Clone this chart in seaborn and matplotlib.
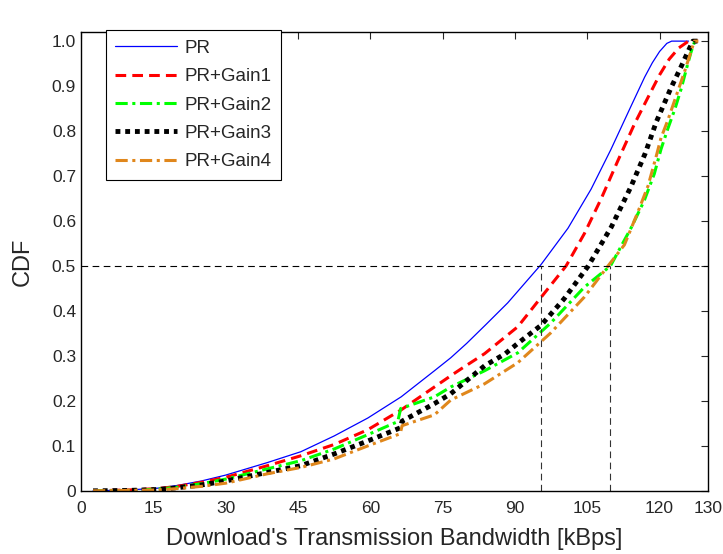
import matplotlib
matplotlib.use("Agg")
import matplotlib.pyplot as plt
import seaborn as sns
import pandas as pd
import numpy as np

# CDF points (x in kBps, y = CDF)
pr_x = [2.5, 10, 16, 20, 25, 30, 38.7, 45.6, 52.5, 59.5, 66.4, 73.3, 76.7, 80, 84, 88.5,
        95.4, 101, 105.8, 109.9, 114.1, 116.9, 118.5, 120, 121.5, 122.5, 126]
pr_y = [0, 0.002, 0.006, 0.012, 0.022, 0.035, 0.063, 0.087, 0.122, 0.162, 0.209, 0.267, 0.296,
        0.328, 0.37, 0.418, 0.503, 0.584, 0.671, 0.759, 0.856, 0.92, 0.952, 0.977, 0.995, 1.0, 1.0]

g1_x = [2.5, 10, 16, 20, 25, 30, 38.7, 45.6, 52.5, 59.5, 66.4, 73.3, 76.7, 78.8, 83.7, 90.6,
        95.4, 100.6, 104.4, 107.9, 111.3, 114.8, 117.6, 120, 122, 124, 126, 128]
g1_y = [0, 0.002, 0.005, 0.01, 0.019, 0.03, 0.056, 0.078, 0.103, 0.136, 0.18, 0.231, 0.256,
        0.271, 0.305, 0.365, 0.43, 0.5, 0.572, 0.65, 0.733, 0.816, 0.875, 0.925, 0.96, 0.985,
        1.0, 1.0]

g2_x = [2.5, 10, 16, 20, 25, 30, 38.7, 45.6, 52.5, 59.5, 65.7, 66.3, 73.3, 76.7, 83.7, 90.6,
        97.4, 104.4, 109.8, 114.1, 116.8, 118.9, 120.3, 121.7, 123.2, 124.5, 125.6, 126.5,
        127.3, 128]
g2_y = [0, 0.001, 0.004, 0.008, 0.016, 0.026, 0.049, 0.067, 0.093, 0.125, 0.154, 0.183, 0.209,
        0.231, 0.267, 0.307, 0.373, 0.453, 0.5, 0.585, 0.645, 0.705, 0.76, 0.805, 0.85, 0.895,
        0.94, 0.975, 1.0, 1.0]

g3_x = [2.5, 10, 16, 20, 25, 30, 38.7, 45.6, 52.5, 59.5, 66.2, 66.6, 73.3, 76.7, 83.7, 88,
        90.6, 95.4, 100.2, 105.2, 110, 114, 117, 119.3, 122.4, 124.5, 125.9, 126.9, 128]
g3_y = [0, 0.001, 0.003, 0.007, 0.013, 0.022, 0.041, 0.056, 0.082, 0.111, 0.14, 0.155, 0.194,
        0.216, 0.278, 0.305, 0.328, 0.368, 0.427, 0.5, 0.587, 0.675, 0.75, 0.82, 0.897, 0.944,
        0.977, 1.0, 1.0]

g4_x = [2.5, 10, 16, 20, 25, 30, 38.7, 45.6, 52.5, 59.5, 66.2, 66.6, 73.3, 76.7, 83.7, 90.6,
        97.4, 104.4, 109.3, 112.7, 115.5, 117.6, 119.3, 120.3, 121.7, 123.5, 125.2, 126.3,
        127.2, 128]
g4_y = [0, 0.001, 0.002, 0.005, 0.01, 0.017, 0.038, 0.052, 0.071, 0.1, 0.127, 0.145, 0.169,
        0.202, 0.238, 0.285, 0.351, 0.431, 0.5, 0.547, 0.62, 0.678, 0.744, 0.785, 0.824, 0.88,
        0.933, 0.97, 1.0, 1.0]

labels = ["PR", "PR+Gain1", "PR+Gain2", "PR+Gain3", "PR+Gain4"]
median_level = 0.5
median_pr = 95.4
median_gain4 = 109.7

series = [(pr_x, pr_y), (g1_x, g1_y), (g2_x, g2_y), (g3_x, g3_y), (g4_x, g4_y)]
colors = ["#0000ff", "#ff0000", "#00ff00", "#000000", "#e0871c"]
styles = [dict(lw=0.9, ls="-"),
          dict(lw=2.2, ls=(0, (3.5, 2))),
          dict(lw=2.2, ls=(0, (4, 1.5, 1, 1.5))),
          dict(lw=3.5, ls=(0, (1, 1))),
          dict(lw=2.2, ls=(0, (4, 1.5, 1, 1.5)))]

sns.set_style("white")
plt.rcParams["font.family"] = ["Liberation Sans", "DejaVu Sans"]

fig = plt.figure(figsize=(7.23, 5.54), dpi=100)
ax = fig.add_axes([0.112, 0.114, 0.867, 0.828])

for (xs, ys), lab, c, st in zip(series, labels, colors, styles):
    df = pd.DataFrame({"x": xs, "y": ys})
    sns.lineplot(data=df, x="x", y="y", ax=ax, color=c, label=lab, sort=False,
                 estimator=None, linewidth=st["lw"], linestyle=st["ls"])

# reference lines at the median
ax.axhline(median_level, color="black", lw=0.8, ls=(0, (6, 4)))
ax.vlines([median_pr, median_gain4], 0, median_level, color="#333333", lw=0.8, ls=(0, (6, 4)))

ax.set_xlim(0, 130)
ax.set_ylim(0, 1.02)
ax.set_xticks([0, 15, 30, 45, 60, 75, 90, 105, 120, 130])
ax.set_yticks(np.arange(0, 1.01, 0.1))
ax.set_yticklabels(["0"] + ["%.1f" % v for v in np.arange(0.1, 1.01, 0.1)])
ax.tick_params(direction="in", top=True, right=True, length=5, labelsize=12.5, width=0.8)
ax.tick_params(axis="x", pad=7)
for s in ax.spines.values():
    s.set_color("black")
    s.set_linewidth(1.0)

ax.set_xlabel("Download's Transmission Bandwidth [kBps]", fontsize=17, labelpad=9)
ax.set_ylabel("CDF", fontsize=17, labelpad=13)

leg = ax.legend(loc="upper left", bbox_to_anchor=(0.04, 1.004), borderaxespad=0,
                fontsize=13.5, fancybox=False, framealpha=1, edgecolor="black",
                handlelength=3.3, handletextpad=0.4, borderpad=0.5, labelspacing=0.6)
leg.get_frame().set_linewidth(0.8)

fig.savefig("out.png", dpi=100)
